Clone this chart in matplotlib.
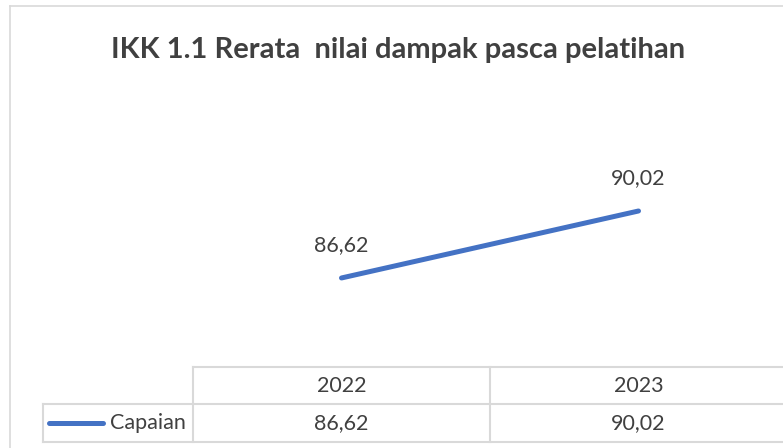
import matplotlib.pyplot as plt
from matplotlib.lines import Line2D

# data
years = ['2022', '2023']
capaian = [86.62, 90.02]
series_name = 'Capaian'
title = 'IKK 1.1 Rerata  nilai dampak pasca pelatihan'

def fmt(v):
    return ('%.2f' % v).replace('.', ',')

W, H = 783, 448
plt.rcParams['font.family'] = ['Lato', 'DejaVu Sans']
txt_col = '#404040'
grid_col = '#D9D9D9'
blue = '#4472C4'
fs = 15.5

fig = plt.figure(figsize=(W / 100, H / 100), dpi=100)

# helpers: pixel coords -> figure coords
def fx(px):
    return px / W

def fy(py):
    return 1 - py / H

# chart border (left and top visible)
fig.add_artist(Line2D([fx(10), fx(10)], [fy(6), fy(448)], color=grid_col, lw=1.2))
fig.add_artist(Line2D([fx(10), fx(783)], [fy(6), fy(6)], color=grid_col, lw=1.2))

fig.text(fx(398), fy(50), title, ha='center', va='center',
         fontsize=21, fontweight='bold', color=txt_col)

# plot area
ax = fig.add_axes([fx(193), fy(367), fx(787) - fx(193), fy(80) - fy(367)])
ax.set_axis_off()
xs = list(range(len(years)))
ax.plot(xs, capaian, color=blue, lw=3.6, solid_capstyle='round')
ax.set_xlim(-0.5, len(years) - 0.5)
ax.set_ylim(82.1, 96.67)
for x, v in zip(xs, capaian):
    ax.annotate(fmt(v), (x, v), xytext=(0, 24), textcoords='offset points',
                ha='center', va='center', fontsize=fs, color=txt_col)

# data table
col_edges = [193, 490, 787]
row_top, row_mid, row_bot = 367, 404, 442
lw = 1.5
fig.add_artist(Line2D([fx(193), fx(783)], [fy(row_top)] * 2, color=grid_col, lw=lw))
fig.add_artist(Line2D([fx(43), fx(783)], [fy(row_mid)] * 2, color=grid_col, lw=lw))
fig.add_artist(Line2D([fx(43), fx(783)], [fy(row_bot)] * 2, color=grid_col, lw=lw))
fig.add_artist(Line2D([fx(43), fx(43)], [fy(row_mid), fy(row_bot)], color=grid_col, lw=lw))
for c in col_edges[:-1]:
    fig.add_artist(Line2D([fx(c), fx(c)], [fy(row_top), fy(row_bot)], color=grid_col, lw=lw))

for i, (yr, v) in enumerate(zip(years, capaian)):
    cx = (col_edges[i] + col_edges[i + 1]) / 2
    fig.text(fx(cx), fy((row_top + row_mid) / 2), yr, ha='center', va='center',
             fontsize=fs, color=txt_col)
    fig.text(fx(cx), fy((row_mid + row_bot) / 2), fmt(v), ha='center', va='center',
             fontsize=fs, color=txt_col)

# legend key in the table
fig.add_artist(Line2D([fx(49), fx(103)], [fy(423)] * 2, color=blue, lw=3.6,
                      solid_capstyle='round'))
fig.text(fx(186), fy(423), series_name, ha='right', va='center',
         fontsize=fs, color=txt_col)

fig.savefig('out.png', dpi=100)
